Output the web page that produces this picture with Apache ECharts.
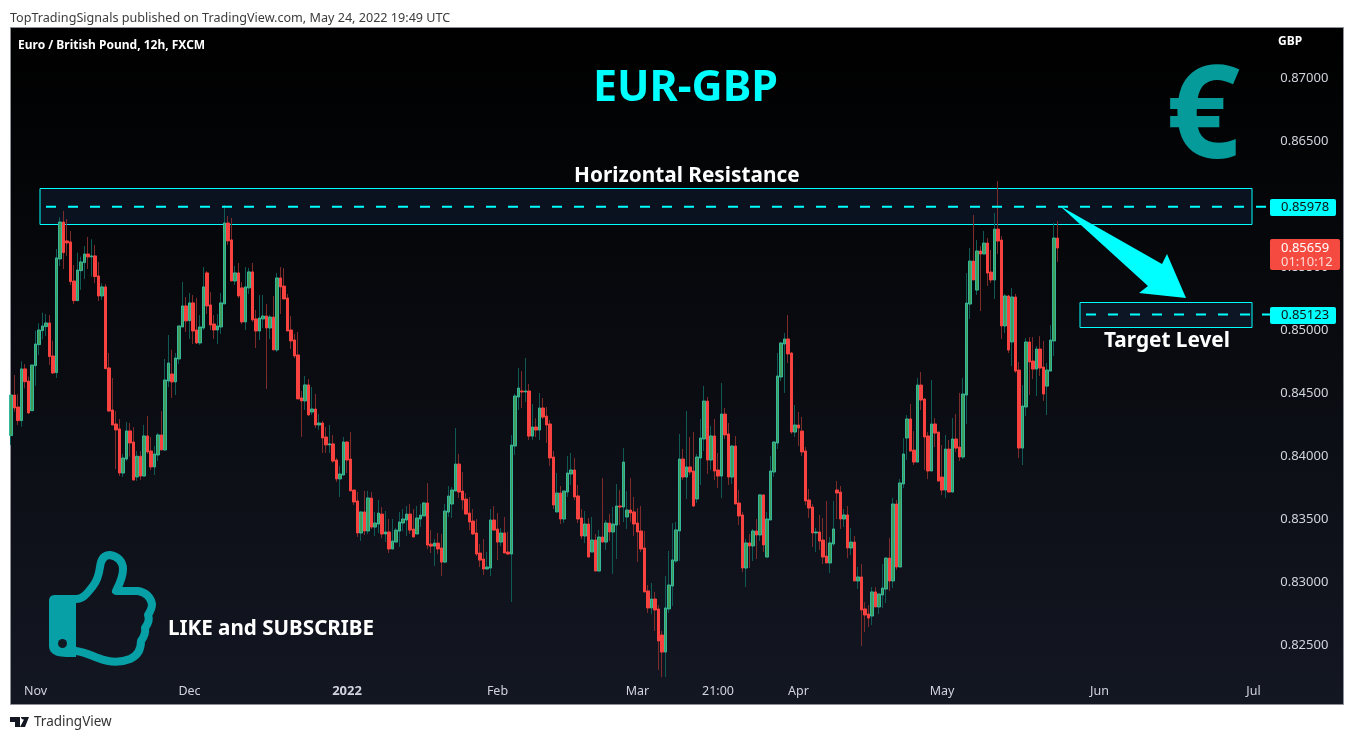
<!DOCTYPE html>
<html><head><meta charset="utf-8"><style>html,body{margin:0;padding:0;background:#fff}#c{width:1354px;height:740px}</style>
<script src="https://cdn.jsdelivr.net/npm/echarts@6/dist/echarts.min.js"></script></head>
<body><div id="c"></div><script>
// Prices in 1e-5 GBP: [open, close, low, high]
const candlesA=[[84162,84484,84088,84484],[84484,84381,84352,84643],[84389,84281,84246,84490],[84281,84691,84233,84752],[84691,84590,84537,84730],[84595,84342,84334,84630],[84360,84722,84360,84722],[84717,84889,84556,84995],[84884,85000,84802,85053],[84995,85032,84926,85138],[85027,85056,84953,85127],[85056,84789,84722,85119],[84794,84659,84651,84916],[84662,85572,84619,85643],[85564,85857,85508,85894],[85857,85614,85484,85945],[85707,85691,85588,85881],[85699,85384,85357,85786],[85389,85233,85207,85516],[85233,85476,85233,85614],[85471,85540,85318,85582],[85535,85603,85405,85667],[85603,85580,85484,85738],[85580,85588,85424,85720],[85588,85424,85371,85675],[85429,85270,85230,85540],[85270,85342,85238,85371],[85342,84693,84693,85365],[84699,84357,84349,84818],[84365,84246,84246,84619],[84254,84207,83897,84357],[84215,83865,83841,84294],[83865,83984,83834,84016],[83976,84199,83960,84270],[84199,84103,83995,84262],[84111,83810,83802,84230],[83834,83998,83802,84040],[83998,83841,83810,84040],[83841,84159,83841,84246],[84159,84032,84016,84318],[84040,83913,83889,84151],[83913,84016,83849,84080],[84008,84167,83960,84183],[84167,84048,84048,84357],[84048,84603,84040,84770],[84595,84738,84548,84961],[84651,84588,84461,84842],[84588,84778,84484,84818],[84770,85032,84730,85032],[85024,85191,85024,85381],[85191,85072,84984,85262],[85074,85215,84929,85294]];
const candlesB=[[85215,84992,84889,85278],[85000,84897,84889,85254],[84897,85024,84881,85119],[85016,85342,85000,85500],[85453,85191,85127,85468],[85199,85040,85000,85302],[85048,85000,84929,85119],[85000,85032,84889,85127],[85024,85215,84969,85294],[85207,85849,85207,85992],[85849,85707,85675,85905],[85715,85389,85389,85889],[85389,85453,85357,85508],[85453,85270,85254,85532],[85334,85064,85048,85381],[85064,85342,85000,85500],[85334,85461,85286,85492],[85461,85080,85064,85532],[85088,84992,84857,85159],[84992,85095,84921,85278],[85088,85111,85016,85278],[85111,85016,84532,85207],[85016,85103,84929,85119],[85103,84842,84842,85270],[84842,85413,84826,85453],[85413,85342,85127,85500],[85349,85246,85246,85492],[85254,84992,84992,85286],[85000,84913,84849,85111],[84921,84794,84778,84969],[84802,84453,84453,84984],[84461,84437,84151,84516],[84437,84564,84365,84635],[84564,84326,84318,84611],[84349,84373,84326,84548],[84373,84246,84222,84492],[84246,84262,84207,84334],[84262,84143,84024,84278],[84151,84088,84024,84230],[84088,84096,84024,84246],[84096,83960,83945,84167],[83968,83818,83794,83984],[83818,83857,83675,83921],[83849,84111,83849,84151],[84111,83968,83865,84119],[83976,83723,83723,84191],[83730,83635,83611,83730],[83643,83389,83357,83715],[83389,83556,83326,83556],[83556,83405,83373,83723],[83405,83667,83381,83723]];
const candlesC=[[83666,83436,83420,83714],[83436,83468,83365,83555],[83460,83547,83389,83651],[83539,83381,83349,83595],[83381,83397,83317,83563],[83397,83262,83230,83500],[83262,83325,83262,83500],[83317,83412,83317,83428],[83404,83476,83278,83555],[83468,83500,83404,83579],[83492,83539,83365,83603],[83539,83412,83381,83619],[83420,83357,83357,83579],[83381,83508,83381,83603],[83500,83531,83436,83619],[83524,83627,83524,83635],[83627,83293,83262,83785],[83301,83285,83230,83412],[83285,83309,83127,83341],[83309,83262,83222,83389],[83270,83158,83047,83381],[83158,83563,83150,83619],[83555,83682,83516,83762],[83619,83730,83508,83754],[83722,83936,83722,84222],[83936,83714,83666,84016],[83722,83651,83571,83873],[83658,83539,83539,83706],[83547,83476,83412,83674],[83484,83381,83373,83579],[83389,83222,83206,83500],[83230,83174,83119,83301],[83182,83103,83055,83341],[83103,83119,83103,83238],[83111,83492,83047,83579],[83492,83412,83412,83603],[83420,83317,83174,83547],[83317,83389,83285,83428],[83389,83230,83230,83516],[83238,83222,83214,83397],[83222,84087,82841,84166],[84079,84476,84008,84492],[84468,84539,84365,84698],[84516,84508,84381,84674],[84508,84516,84428,84778],[84516,84158,84127,84571],[84158,84230,84127,84412],[84230,84206,84150,84301],[84206,84381,84127,84500],[84381,84309,84293,84460],[84317,84246,84103,84389]];
const candlesD=[[84254,83984,83921,84286],[83992,83611,83579,84040],[83556,83706,83556,83865],[83706,83500,83460,83762],[83500,83722,83468,83722],[83714,83865,83675,84000],[83857,83889,83770,84024],[83889,83675,83651,83984],[83683,83500,83468,83770],[83508,83365,83341,83579],[83365,83460,83309,83563],[83460,83198,83198,83508],[83238,83333,83238,83516],[83333,83087,83087,83381],[83087,83357,83087,83413],[83357,83317,83317,83825],[83317,83468,83254,83492],[83468,83397,83325,83540],[83397,83460,83064,83595],[83452,83603,83183,83778],[83603,83595,83452,83730],[83595,83952,83476,84063],[83516,83571,83421,83722],[83571,83548,83476,83825],[83556,83460,83365,83675],[83468,83397,83159,83587],[83405,83262,83238,83603],[83270,82921,82921,83405],[82929,82794,82754,82976],[82794,82865,82746,82992],[82865,82778,82611,82921],[82786,82532,82302,82817],[82579,82444,82246,82611],[82444,82794,82246,83048],[82786,82976,82754,83246],[82968,83175,82809,83468],[83167,83413,83151,83476],[83405,83976,83167,84175],[83976,83833,83809,84056],[83833,83913,83659,84357],[83913,83873,83849,84151],[83881,83603,83595,84190],[83659,83992,83627,84016],[83984,84143,83770,84294],[84135,84436,84040,84556],[84436,83968,83857,84468],[83968,84159,83889,84238],[84159,83881,83809,84294],[83889,83841,83746,84024],[83841,84333,83667,84579],[84333,84167,84135,84381],[84175,83833,83770,84262]];
const candlesE=[[83833,84079,83778,84087],[84079,83619,83619,84159],[83627,83524,83452,83730],[83532,83111,83079,83556],[83111,83310,82960,83341],[83310,83286,83111,83381],[83286,83405,83167,83421],[83405,83373,83183,83500],[83373,83691,83325,83698],[83691,83294,83238,83691],[83198,83500,83198,83556],[83492,83881,83492,84000],[83873,84111,83833,84119],[84103,84635,84056,84817],[84627,84897,84595,84905],[84889,84929,84500,84976],[84929,84810,84738,85119],[84817,84190,84175,84825],[84190,84246,84151,84405],[84246,84222,84079,84349],[84198,84032,84000,84310],[84040,83643,83611,84071],[83651,83587,83508,83738],[83595,83389,83278,83619],[83389,83397,83238,83429],[83397,83325,83254,83532],[83333,83198,83143,83508],[83206,83151,83151,83643],[83151,83310,83071,83357],[83302,83421,83286,83643],[83730,83706,83500,83802],[83714,83500,83421,83762],[83500,83532,83437,83579],[83532,83270,83190,83603],[83270,83317,83214,83429],[83317,83008,83008,83365],[83008,83040,82944,83119],[83040,82778,82492,83143],[82786,82738,82603,82841],[82746,82714,82643,82817],[82730,82921,82659,82960],[82921,82802,82802,82960],[82802,82905,82746,82905],[82897,82952,82794,83143],[82944,83190,82833,83198],[83190,83008,82928,83349],[83008,83619,82952,83667],[83619,83119,83095,83651],[83119,83786,83119,83817],[83778,84016,83746,84143],[84143,84294,83968,84325]];
const candlesF=[[84294,84039,84039,84413],[84047,83952,83928,84198],[83952,84563,83952,84619],[84563,84444,84365,84667],[84452,84151,83889,84460],[84159,83881,83817,84190],[83881,84254,83881,84603],[84254,84182,84071,84301],[84190,83801,83801,84190],[83833,83730,83690,84087],[83730,84055,83666,84166],[84055,83714,83714,84127],[83714,84135,83714,84301],[84135,84063,84032,84333],[84071,83992,83960,84500],[83992,84492,83976,84619],[84484,85214,84254,85452],[85206,85547,85087,85651],[85547,85397,85397,85913],[85317,85627,85278,85714],[85627,85603,85151,85666],[85603,85690,85603,85786],[85690,85452,85349,85730],[85460,85397,85373,85635],[85397,85801,85246,85928],[85801,85706,85603,86182],[85714,85032,84928,85746],[85032,85270,84976,85286],[85270,84841,84817,85278],[84905,85262,84714,85333],[85262,84674,84659,85286],[84682,84063,83984,84746],[84063,84397,83928,84563],[84389,84905,84317,84936],[84905,84746,84484,84944],[84754,84690,84611,84944],[84690,84849,84476,84873],[84849,84698,84635,84952],[84706,84492,84436,84913],[84555,84682,84325,84738],[84674,84920,84674,85039],[84913,85730,84793,85849],[85730,85651,85540,85865]];
const priceTicks=[0.825,0.83,0.835,0.84,0.845,0.85,0.855,0.86,0.865,0.87];
const timeTickIndex=[7,51,96,139,179,202,225,266,311,355];
const timeTickText=['Nov','Dec','2022','Feb','Mar','21:00','Apr','May','Jun','Jul'];
const resistanceZone=[0.86127,0.85841],targetZone=[0.85222,0.85024];
const resistanceLevel=0.85978,targetLevel=0.85123,lastPrice=0.85659;

const all=[...candlesA,...candlesB,...candlesC,...candlesD,...candlesE,...candlesF].map(r=>r.map(v=>v/1e5));
const slots=358;
const cats=Array.from({length:slots},(_,i)=>String(i));
const blank=Array.from({length:slots-all.length},()=>'-');
const chart=echarts.init(document.getElementById('c'),null,{renderer:'canvas'});
const gridLeft=9.25,gridTop=15,gridH=693,gridW=3.5*slots;
const UI='"Noto Sans","Open Sans",sans-serif';
const body=all.map(([o,c])=>[o,c,Math.min(o,c),Math.max(o,c)]);
chart.setOption({
 animation:false,backgroundColor:'#ffffff',
 grid:{left:gridLeft,top:gridTop,width:gridW,height:gridH,containLabel:false},
 xAxis:{type:'category',data:cats,boundaryGap:true,axisLine:{show:false},axisTick:{show:false},splitLine:{show:false},
  axisLabel:{inside:true,margin:10,hideOverlap:false,color:'#d1d4dc',fontFamily:UI,fontSize:12.5,
   interval:(i)=>timeTickIndex.includes(i),
   formatter:(v)=>{const t=timeTickText[timeTickIndex.indexOf(+v)];return t==='2022'?'{b|2022}':t;},
   rich:{b:{fontWeight:'bold',color:'#d1d4dc',fontSize:13,fontFamily:UI}}}},
 yAxis:{type:'value',position:'right',min:0.82,max:0.875,interval:0.005,scale:true,axisLine:{show:false},axisTick:{show:false},splitLine:{show:false},
  axisLabel:{showMinLabel:false,showMaxLabel:false,margin:18,color:'#d1d4dc',fontFamily:UI,fontSize:13,formatter:(v)=>v.toFixed(5)}},
 series:[
  {type:'candlestick',name:'wicks',data:all.concat(blank),barWidth:1,clip:false,silent:true,
   itemStyle:{color:'#0f5a55',color0:'#7d2b2b',borderColor:'#0f5a55',borderColor0:'#7d2b2b',borderWidth:1}},
  {type:'candlestick',name:'bodies',data:body.concat(blank),barWidth:3,clip:false,silent:true,z:3,
   itemStyle:{color:'#3f9d57',color0:'#f7423f',borderColor:'#35b79c',borderColor0:'#f7423f',borderWidth:1}}
 ]
});
const regPath=(name,d)=>echarts.graphic.registerShape(name,echarts.graphic.extendPath(d,{}));
regPath('thumbOutline','M76 599C84 599 88 592 93 586C97 581 99 574 100 567C101 559 104 555 110 555C118 556 123 562 123 569C123 578 119 585 116 591L138 591C146 592 151 598 152 604C152 609 150 612 148 615C150 620 148 624 145 628C146 633 144 637 141 641C141 650 137 656 130 659C120 663 108 662 98 658C90 655 84 652 76 651');
regPath('thumbCuff','M55 595L76 595L76 657C66 657 60 657 55 655C51 653 49 650 49 646L49 601C49 597 51 595 55 595Z');
regPath('tvLogo','M10 717H20V727H15V722H10ZM21 717H29L25 727H20L24 719.5A2.5 2.5 0 0 1 21 717Z');
const yp=v=>chart.convertToPixel({yAxisIndex:0},v);
const CY='#00ffff';
const zone=(x0,x1,p)=>({type:'rect',z:1,shape:{x:x0+.5,y:Math.round(yp(p[0]))+.5,width:x1-x0,height:Math.round(yp(p[1]))-Math.round(yp(p[0]))},style:{fill:'rgba(33,80,140,0.18)',stroke:CY,lineWidth:1}});
const dash=(x0,x1,p)=>({type:'line',z:5,shape:{x1:x0,y1:yp(p),x2:x1,y2:yp(p)},style:{stroke:CY,lineWidth:2,lineDash:[10,12]}});
const txt=(s,x,y,o)=>({type:'text',z:20,x,y,style:Object.assign({text:s,fill:'#fff',fontFamily:UI,fontSize:12,verticalAlign:'middle'},o||{})});
const tag=(x,y,w,h,fill)=>({type:'rect',z:15,shape:{x,y,width:w,height:h,r:2},style:{fill}});
chart.setOption({graphic:{elements:[
 {type:'rect',z:-1,shape:{x:10.5,y:27.5,width:1333,height:677},style:{stroke:'#8d8f99',lineWidth:1,fill:new echarts.graphic.LinearGradient(0,0,0,1,[{offset:0,color:'#000000'},{offset:1,color:'#131722'}])}},
 zone(39.5,1251.5,resistanceZone),zone(1079.5,1251.5,targetZone),
 dash(46,1268,resistanceLevel),dash(1086,1272,targetLevel),
 {type:'polygon',z:6,shape:{points:[[1060,206],[1162,264],[1167,254],[1186,298],[1139,293],[1148,286]]},style:{fill:CY}},
 tag(1270,199,66,17,CY),tag(1270,307,66,17,CY),tag(1270,239,70,31,'#f44a3f'),
 txt('0.85978',1281,yp(resistanceLevel)+.5,{fill:'#111',fontSize:13}),
 txt('0.85123',1281,yp(targetLevel)+.5,{fill:'#111',fontSize:13}),
 txt('0.85659',1281,248,{fontSize:13}),
 txt('01:10:12',1281,262,{fontSize:13,fill:'#ffd9d5'}),
 txt('GBP',1278,42,{fontWeight:'bold',fontSize:12}),
 txt('TopTradingSignals published on TradingView.com, May 24, 2022 19:49 UTC',10,18.5,{fill:'#3b3b3b',fontSize:12.6}),
 txt('Euro / British Pound, 12h, FXCM',18,46,{fontWeight:'bold',fontSize:12}),
 txt('EUR-GBP',593,89,{fill:CY,fontSize:43,fontWeight:'bold'}),
 txt('Horizontal Resistance',574,176.5,{fontSize:20.8,fontWeight:'bold'}),
 txt('Target Level',1104,341,{fontSize:20.8,fontWeight:'bold'}),
 txt('LIKE and SUBSCRIBE',168,629,{fontSize:20.6,fontWeight:'bold'}),
 txt('€',1166,121,{fill:'#059b9b',fontSize:130,fontWeight:'bold'}),
 {type:'thumbOutline',z:7,style:{fill:'none',stroke:'#07a0a6',lineWidth:8,lineCap:'round',lineJoin:'round'}},
 {type:'thumbCuff',z:7,style:{fill:'#07a0a6'}},
 {type:'circle',z:8,shape:{cx:62.5,cy:643.5,r:4.5},style:{fill:'#131722'}},
 {type:'tvLogo',z:20,style:{fill:'#131722'}},
 txt('TradingView',34,722.5,{fill:'#333',fontSize:13.5})
]}});
</script></body></html>
